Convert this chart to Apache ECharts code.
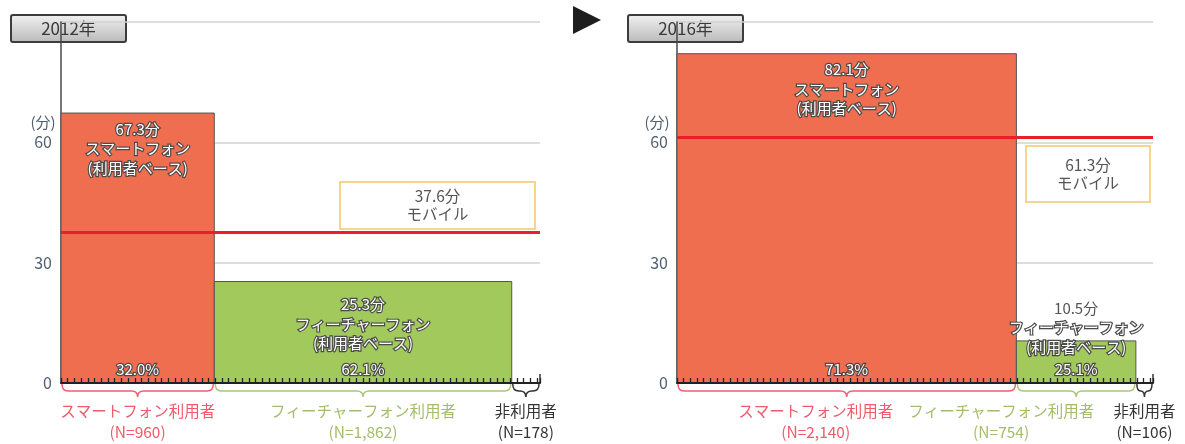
<!DOCTYPE html>
<html>
<head>
<meta charset="utf-8">
<script src="https://cdn.jsdelivr.net/npm/echarts@6/dist/echarts.min.js"></script>
<style>
  html, body { margin: 0; padding: 0; background: #fff; }
  #chart { width: 1185px; height: 444px; }
</style>
</head>
<body>
<div id="chart"></div>
<script>
// Average daily mobile usage time (minutes) by device, weighted by share of users
const years = ['2012年', '2016年'];
const groups = ['スマートフォン', 'フィーチャーフォン', '非利用者'];
const groupLabels = ['スマートフォン利用者', 'フィーチャーフォン利用者', '非利用者'];
const share2012 = [32.0, 62.1, 5.9];     // % of respondents
const share2016 = [71.3, 25.1, 3.6];
const minutes2012 = [67.3, 25.3, null];  // minutes per user
const minutes2016 = [82.1, 10.5, null];
const count2012 = [960, 1862, 178];      // N
const count2016 = [2140, 754, 106];
const mobile2012 = 37.6;                 // mobile overall average (minutes)
const mobile2016 = 61.3;
const yTicks = [0, 30, 60, 90];

const FONT = '"Noto Sans CJK JP", "Noto Sans", sans-serif';
const barColors = ['#f06e50', '#a2c95c', null];
const braceColors = ['#f0606e', '#a8c878', '#333333'];
const groupTextColors = ['#f05a6a', '#a4bd6a', '#333333'];
// horizontal nudges for the group captions under each panel
const captionShift = [[0, 0, 0], [-31, -75, 0]];

function buildData(shares, minutes, counts) {
  let acc = 0;
  return shares.map((s, i) => {
    const x0 = acc;
    acc += s;
    return [x0, acc, minutes[i], i, s, counts[i]];
  });
}

function outlined(text, x, y, extra) {
  return Object.assign({
    type: 'text',
    style: {
      text: text, x: x, y: y,
      fill: '#ffffff', stroke: '#4a4a4a', lineWidth: 2.4,
      fontSize: 15, fontFamily: FONT,
      align: 'center', verticalAlign: 'middle', lineHeight: 19.5
    },
    z2: 20
  }, extra || {});
}

function renderPanel(params, api) {
  const x0 = api.value(0), x1 = api.value(1), m = api.value(2);
  const i = api.value(3), s = api.value(4), n = api.value(5);
  const p0 = api.coord([x0, 0]);
  const p1 = api.coord([x1, 0]);
  const y0 = p0[1], xa = p0[0], xb = p1[0], xc = (xa + xb) / 2;
  const children = [];

  if (!isNaN(m)) {
    const top = api.coord([x0, m])[1];
    const h = y0 - top;
    children.push({
      type: 'rect',
      shape: { x: xa, y: top, width: xb - xa, height: h },
      style: { fill: barColors[i], stroke: '#555555', lineWidth: 1 },
      z2: 1
    });
    let first;
    if (h > 150) first = top + 16;
    else if (h > 80) first = top + 23;
    else first = top - 33;
    const lines = [m.toFixed(1) + '分', groups[i], '(利用者ベース)'];
    lines.forEach((t, k) => {
      const onWhite = first + k * 19.5 < top - 8;
      children.push(outlined(t, xc, first + k * 19.5, onWhite && k === 0 ? {
        style: { text: t, x: xc, y: first, fill: '#555555', stroke: '#ffffff', lineWidth: 2,
                 fontSize: 15, fontFamily: FONT, align: 'center', verticalAlign: 'middle' }
      } : null));
    });
    children.push(outlined(s.toFixed(1) + '%', xc, y0 - 14));
  }

  // curly brace under the segment
  const L = xa + 1, R = xb - 1;
  const ym = y0 + 8, yd = y0 + 14;
  const r = Math.min(6, (R - L) / 4);
  const path = 'M' + L + ' ' + (y0 + 1) +
    ' Q' + L + ' ' + ym + ' ' + (L + r) + ' ' + ym +
    ' L' + (xc - r) + ' ' + ym +
    ' Q' + xc + ' ' + ym + ' ' + xc + ' ' + yd +
    ' Q' + xc + ' ' + ym + ' ' + (xc + r) + ' ' + ym +
    ' L' + (R - r) + ' ' + ym +
    ' Q' + R + ' ' + ym + ' ' + R + ' ' + (y0 + 1);
  children.push({
    type: 'path',
    shape: { pathData: path },
    style: { fill: null, stroke: braceColors[i], lineWidth: 1.5 },
    z2: 5
  });

  if (i === groups.length - 1) {
    children.push({
      type: 'line',
      shape: { x1: xb, y1: y0, x2: xb, y2: y0 - 9 },
      style: { stroke: '#2a2a2a', lineWidth: 1.4 },
      z2: 6
    });
  }

  // caption with sample size
  const shift = captionShift[params.seriesIndex >> 1][i];
  children.push({
    type: 'text',
    style: {
      text: groupLabels[i] + '\n(N=' + n.toLocaleString('en-US') + ')',
      x: xc + shift, y: y0 + 17.5,
      fill: groupTextColors[i], fontSize: 15.5, fontFamily: FONT,
      align: 'center', verticalAlign: 'top', lineHeight: 21
    },
    z2: 10
  });

  return { type: 'group', children: children };
}

function yearBox(x, y, label) {
  return {
    type: 'group', x: x, y: y, z: 20,
    children: [
      {
        type: 'rect',
        shape: { x: 0, y: 0, width: 115, height: 27, r: 2 },
        style: {
          fill: new echarts.graphic.LinearGradient(0, 0, 0, 1, [
            { offset: 0, color: '#f2f2f2' }, { offset: 1, color: '#b9b9b9' }
          ]),
          stroke: '#3c3c3c', lineWidth: 2
        }
      },
      {
        type: 'text', x: 57.5, y: 14,
        style: { text: label, fill: '#3a3a3a', fontSize: 17, fontFamily: FONT,
                 align: 'center', verticalAlign: 'middle' }
      }
    ]
  };
}

function mobileBox(x, y, w, h, value) {
  return {
    type: 'group', x: x, y: y, z: 20,
    children: [
      { type: 'rect', shape: { x: 0, y: 0, width: w, height: h },
        style: { fill: '#ffffff', stroke: '#f8c66a', lineWidth: 1.5 } },
      { type: 'text', x: w / 2, y: h / 2,
        style: { text: value.toFixed(1) + '分\nモバイル', fill: '#555555', fontSize: 15.5,
                 fontFamily: FONT, align: 'center', verticalAlign: 'middle', lineHeight: 18 } }
    ]
  };
}

function unitLabel(x, y) {
  return { type: 'text', x: x, y: y, z: 20,
    style: { text: '(分)', fill: '#506070', fontSize: 15, fontFamily: FONT,
             align: 'center', verticalAlign: 'middle' } };
}

const grids = [
  { left: 61, top: 22, width: 479, height: 361 },
  { left: 677, top: 22, width: 476, height: 361 }
];

const panels = [
  { data: buildData(share2012, minutes2012, count2012), mobile: mobile2012 },
  { data: buildData(share2016, minutes2016, count2016), mobile: mobile2016 }
];

const series = [];
panels.forEach((p, g) => {
  series.push({
    type: 'custom',
    xAxisIndex: g, yAxisIndex: g,
    renderItem: renderPanel,
    encode: { x: [0, 1], y: 2 },
    data: p.data,
    z: 2,
    silent: true
  });
  series.push({
    type: 'line',
    xAxisIndex: g, yAxisIndex: g,
    data: [],
    silent: true,
    markLine: {
      silent: true,
      symbol: ['none', 'none'],
      label: { show: false },
      lineStyle: { color: '#e8202a', width: 3, type: 'solid' },
      emphasis: { disabled: true },
      data: [{ yAxis: p.mobile }],
      z: 8
    }
  });
});

const chart = echarts.init(document.getElementById('chart'), null, { renderer: 'canvas' });
chart.setOption({
  animation: false,
  backgroundColor: '#ffffff',
  grid: grids,
  xAxis: grids.map((_, g) => ({
    gridIndex: g, type: 'value', min: 0, max: 100, interval: 1.4,
    z: 3,
    axisLine: { onZero: true, lineStyle: { color: '#222222', width: 2 } },
    axisTick: { inside: true, length: 5, lineStyle: { color: '#222222', width: 1.3 } },
    axisLabel: { show: false },
    splitLine: { show: false }
  })),
  yAxis: grids.map((_, g) => ({
    gridIndex: g, type: 'value', min: yTicks[0], max: yTicks[yTicks.length - 1], interval: 30,
    axisLine: { show: true, lineStyle: { color: '#4a4a4a', width: 1.5 } },
    axisTick: { show: false },
    axisLabel: {
      margin: 9, color: '#506070', fontSize: 16, fontFamily: FONT,
      formatter: v => (v === yTicks[yTicks.length - 1] ? '' : String(v))
    },
    splitLine: { lineStyle: { color: '#d2d2d2', width: 1.5 } }
  })),
  graphic: [
    yearBox(11, 15, years[0]),
    yearBox(628, 15, years[1]),
    { type: 'polygon', z: 20, shape: { points: [[573, 6], [601, 20], [573, 34]] },
      style: { fill: '#1e1e1e' } },
    unitLabel(43, 122),
    unitLabel(657, 122),
    mobileBox(340, 182, 195, 47, mobile2012),
    mobileBox(1026, 146, 124, 56, mobile2016)
  ],
  series: series
});
</script>
</body>
</html>
